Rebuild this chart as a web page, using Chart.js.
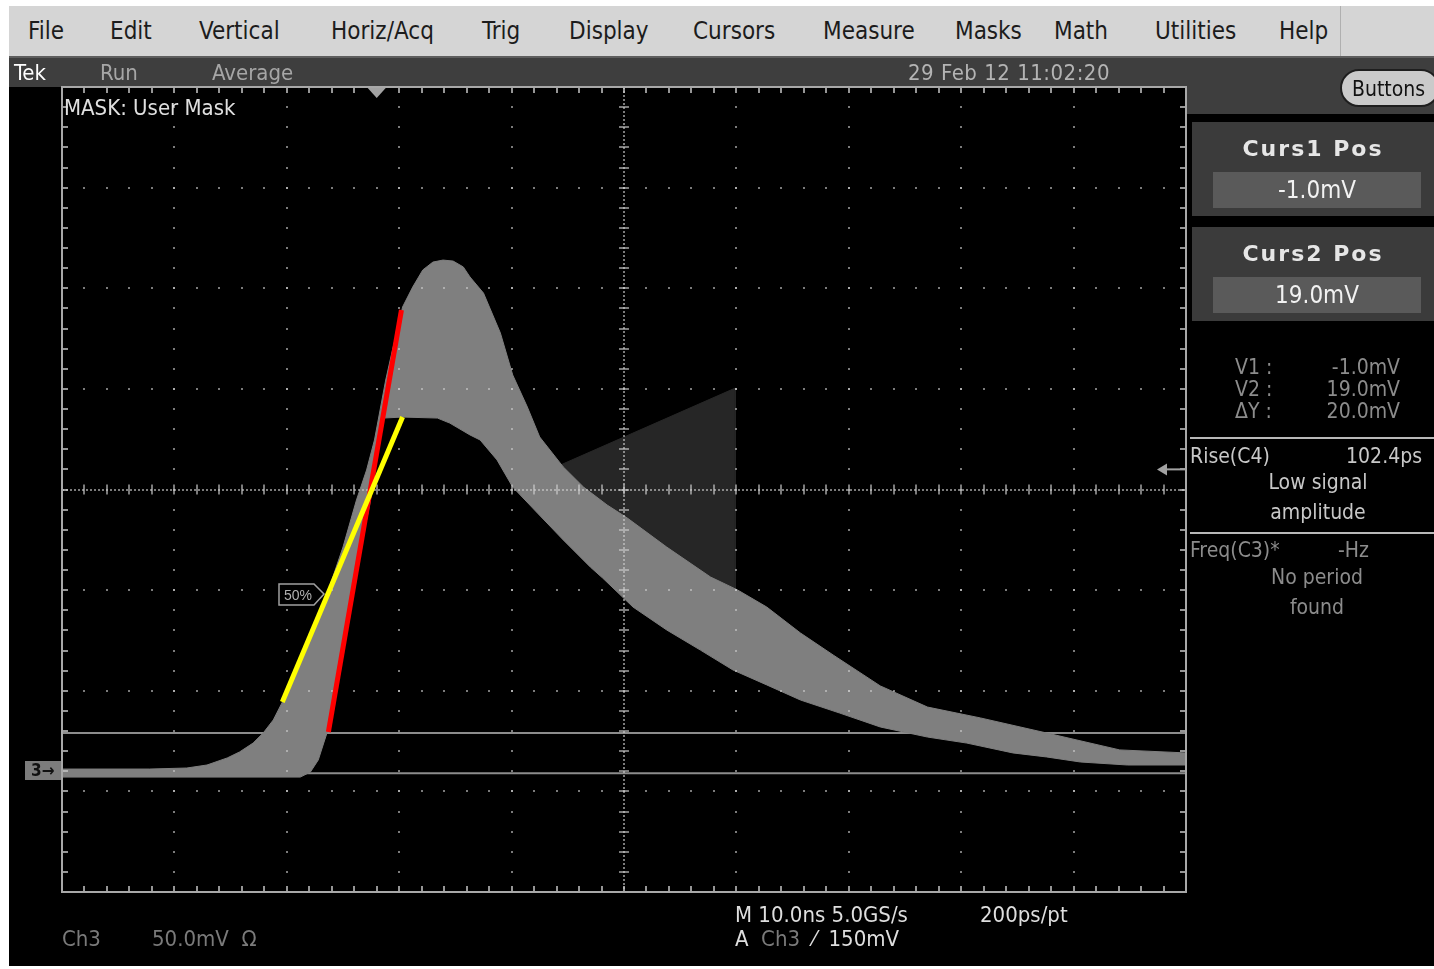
<!DOCTYPE html>
<html>
<head>
<meta charset="utf-8">
<title>Tek Ch3 mask</title>
<script src="https://cdn.jsdelivr.net/npm/chart.js"></script>
<style>
    body { margin: 0; width: 1434px; height: 969px; background: #fff; position: relative; overflow: hidden;
           font-family: "Liberation Sans Narrow", "DejaVu Sans Condensed", "Liberation Sans", sans-serif; }
    .abs { position: absolute; white-space: nowrap; line-height: 1; }
    #menubar { left: 9px; top: 6px; width: 1425px; height: 50px; background: #d5d5d5; border-bottom: 2px solid #5e5e5e; }
    #menubar span { position: absolute; top: 13px; font-size: 24px; color: #1c1c1c; }
    #menusep { left: 1340px; top: 6px; width: 1px; height: 50px; background: #b0b0b0; }
    #screen { left: 9px; top: 58px; width: 1425px; height: 908px; background: #000; }
    #status { left: 9px; top: 58px; width: 1425px; height: 29px; background: #3e3e3e; }
    #rightHead { left: 1186px; top: 58px; width: 248px; height: 56px; background: #3e3e3e; }
    #buttons { left: 1340px; top: 69px; width: 100px; height: 38px; background: #cacaca; border: 2px solid #1e1e1e;
               border-radius: 20px; box-sizing: border-box; font-size: 21px; color: #111; padding: 8px 0 0 10px; }
    .curBox { position: absolute; left: 1192px; width: 242px; height: 94px; background: #3b3b3b; }
    .curTitle { position: absolute; left: 0; width: 100%; top: 14px; text-align: center; font-family: "DejaVu Sans", sans-serif;
                font-weight: bold; font-size: 22px; letter-spacing: 2px; color: #e6e6e6; }
    .curVal { position: absolute; left: 21px; top: 50px; width: 208px; height: 36px; background: #5a5a5a;
              text-align: center; font-size: 24px; color: #f2f2f2; line-height: 36px; }
    .dim { color: #8c8c8c; }
    #canvasWrap { position: absolute; left: 0; top: 0; width: 1434px; height: 969px; }
    .sep { position: absolute; left: 1190px; width: 244px; height: 2px; background: #b8b8b8; }
</style>
</head>
<body>
<div id="screen" class="abs"></div>
<div id="menubar" class="abs">
    <span style="left:19px">File</span>
    <span style="left:101px">Edit</span>
    <span style="left:190px">Vertical</span>
    <span style="left:322px">Horiz/Acq</span>
    <span style="left:473px">Trig</span>
    <span style="left:560px">Display</span>
    <span style="left:684px">Cursors</span>
    <span style="left:814px">Measure</span>
    <span style="left:946px">Masks</span>
    <span style="left:1045px">Math</span>
    <span style="left:1146px">Utilities</span>
    <span style="left:1270px">Help</span>
</div>
<div id="menusep" class="abs"></div>
<div id="status" class="abs"></div>
<div id="rightHead" class="abs"></div>

<div id="canvasWrap"><canvas id="scopeChart" width="1434" height="969"></canvas></div>

<!-- barra de estado -->
<div class="abs" style="left:14px;top:62px;font-size:22px;color:#fff">Tek</div>
<div class="abs" style="left:100px;top:62px;font-size:22px;color:#a6a6a6">Run</div>
<div class="abs" style="left:212px;top:62px;font-size:22px;color:#a6a6a6">Average</div>
<div class="abs" style="left:908px;top:62px;font-size:22px;letter-spacing:0.5px;color:#b4b4b4">29 Feb 12 11:02:20</div>
<div id="buttons" class="abs">Buttons</div>
<div class="abs" style="left:64px;top:97px;font-size:22px;color:#e0e0e0">MASK: User Mask</div>

<!-- panel de cursores -->
<div class="curBox" style="top:122px"><div class="curTitle">Curs1 Pos</div><div class="curVal">-1.0mV</div></div>
<div class="curBox" style="top:227px"><div class="curTitle">Curs2 Pos</div><div class="curVal">19.0mV</div></div>

<div class="abs dim" style="left:1235px;top:357px;font-size:21px">V1 :</div>
<div class="abs dim" style="left:1235px;top:379px;font-size:21px">V2 :</div>
<div class="abs dim" style="left:1235px;top:401px;font-size:21px">ΔY :</div>
<div class="abs dim" style="left:1300px;width:100px;text-align:right;top:357px;font-size:21px">-1.0mV</div>
<div class="abs dim" style="left:1300px;width:100px;text-align:right;top:379px;font-size:21px">19.0mV</div>
<div class="abs dim" style="left:1300px;width:100px;text-align:right;top:401px;font-size:21px">20.0mV</div>

<div class="sep" style="top:437px"></div>
<div class="abs" style="left:1190px;top:446px;font-size:21px;color:#c8c8c8">Rise(C4)</div>
<div class="abs" style="left:1322px;width:100px;text-align:right;top:446px;font-size:21px;color:#c8c8c8">102.4ps</div>
<div class="abs" style="left:1190px;width:256px;text-align:center;top:472px;font-size:21px;color:#c8c8c8">Low signal</div>
<div class="abs" style="left:1190px;width:256px;text-align:center;top:502px;font-size:21px;color:#c8c8c8">amplitude</div>
<div class="sep" style="top:532px"></div>
<div class="abs dim" style="left:1190px;top:540px;font-size:21px">Freq(C3)*</div>
<div class="abs dim" style="left:1338px;top:540px;font-size:21px">-Hz</div>
<div class="abs dim" style="left:1190px;width:254px;text-align:center;top:567px;font-size:21px">No period</div>
<div class="abs dim" style="left:1190px;width:254px;text-align:center;top:597px;font-size:21px">found</div>

<!-- marcadores -->
<div class="abs" style="left:25px;top:761px;width:36px;height:19px;background:#7c7c7c;color:#111;font-size:17px;font-weight:bold;padding:1px 0 0 6px;box-sizing:border-box">3→</div>
<svg class="abs" style="left:278px;top:583px" width="50" height="24">
    <polygon points="1,1 36,1 46,11 36,22 1,22" fill="#000" stroke="#a0a0a0" stroke-width="1.5"/>
    <text x="6" y="17" font-size="14" fill="#b0b0b0" font-family="Liberation Sans Narrow, Liberation Sans, sans-serif">50%</text>
</svg>

<!-- barra inferior -->
<div class="abs" style="left:62px;top:928px;font-size:22px;color:#7a7a7a">Ch3</div>
<div class="abs" style="left:152px;top:928px;font-size:22px;color:#7a7a7a">50.0mV&nbsp;&nbsp;Ω</div>
<div class="abs" style="left:735px;top:904px;font-size:22px;color:#dedede">M 10.0ns 5.0GS/s</div>
<div class="abs" style="left:980px;top:904px;font-size:22px;color:#dedede">200ps/pt</div>
<div class="abs" style="left:735px;top:928px;font-size:22px;color:#dedede">A <span style="color:#7a7a7a">&nbsp;Ch3</span>&nbsp;&nbsp;⁄&nbsp;&nbsp;150mV</div>

<script>
// Envolvente del pulso promediado en Ch3 (tiempo en ns desde el disparo, nivel en mV)
const upperNs = [-28.0, -20.2, -16.9, -15.1, -13.3, -12.2, -11.0, -10.1, -9.2, -8.3, -6.8, -5.3, -4.2, -3.0, -1.8, -0.9,
    -0.2, 0.3, 0.8, 1.4, 1.9, 2.3, 3.2, 4.1, 5.0, 5.9, 6.8, 7.7, 8.3, 9.5, 11.0, 12.1, 13.4, 14.5, 16.6, 18.4, 20.5,
    22.3, 25.8, 29.7, 32.1, 34.7, 37.7, 40.6, 44.8, 49.0, 53.7, 59.6, 66.1, 72.0];
const upperMv = [1.1, 1.1, 1.6, 3.1, 6.6, 9.6, 14.0, 19.0, 25.5, 35.4, 55.3, 75.2, 91.6, 111.4, 134.8, 149.7,
    164.6, 179.5, 194.4, 209.3, 220.7, 230.7, 240.6, 249.1, 253.0, 254.0, 253.5, 250.6, 245.6, 237.6, 217.8, 196.9, 181.0,
    166.1, 151.2, 141.2, 132.3, 125.8, 111.4, 96.5, 90.1, 81.6, 68.7, 57.8, 42.4, 31.9, 26.5, 19.0, 10.6, 9.1];
const lowerNs = [-28.0, -6.8, -5.9, -5.2, -4.4, -2.6, -1.5, -0.6, 0.0, 0.6, 2.3, 5.4, 6.5, 8.3, 9.2, 10.7, 12.1, 14.3,
    16.6, 19.0, 20.1, 22.8, 25.8, 28.8, 31.7, 34.7, 37.7, 41.2, 44.8, 49.0, 52.5, 56.6, 59.6, 62.6, 66.8, 72.0];
const lowerMv = [-2.9, -2.9, -0.4, 5.6, 19.5, 75.2, 108.4, 133.3, 154.7, 175.5, 176.0, 175.5, 173.0, 167.1, 164.6, 154.7,
    141.2, 128.3, 114.9, 101.5, 96.0, 81.6, 70.2, 60.2, 50.3, 42.9, 35.4, 28.9, 22.0, 17.0, 14.0, 9.1, 7.1, 4.6, 3.1, 3.1];

// Triángulo de la máscara de usuario
const maskNs = [12.7, 31.9, 31.9];
const maskMv = [143.2, 190.4, 90.1];

// Rectas de ajuste del flanco de subida
const redFitNs = [-4.3, 2.2];
const redFitMv = [19.5, 229.2];
const yellowFitNs = [-8.4, 2.3];
const yellowFitMv = [34.4, 176.0];

// Cursores, disparo y rango de pantalla (10 ns/div, 50 mV/div)
const cursorMv = [-1.0, 19.0];
const triggerNs = 0;
const triggerLevelMv = 150;
const timeRangeNs = [-28, 72];
const levelRangeMv = [-60, 340];

const toPoints = (xs, ys) => xs.map((x, i) => ({ x: x, y: ys[i] }));

// contorno cerrado: borde superior de izquierda a derecha y borde inferior de vuelta
const bandPoints = toPoints(upperNs, upperMv).concat(toPoints(lowerNs, lowerMv).reverse());
bandPoints.push(bandPoints[0]);
const maskPoints = toPoints(maskNs, maskMv);
maskPoints.push(maskPoints[0]);

const BAND = 3;

// Retícula del osciloscopio: 10 x 8 divisiones, 5 subdivisiones
const graticule = {
    id: 'graticule',
    afterDatasetDraw(chart, args) {
        if (args.index !== BAND) return;
        const { ctx, chartArea: a, scales: { x, y } } = chart;
        const xDiv = (timeRangeNs[1] - timeRangeNs[0]) / 10;
        const yDiv = (levelRangeMv[1] - levelRangeMv[0]) / 8;
        const cx = x.getPixelForValue(timeRangeNs[0] + 5 * xDiv);
        const cy = y.getPixelForValue(levelRangeMv[0] + 4 * yDiv);
        const mx = (a.right - a.left) / 50;
        const my = (a.bottom - a.top) / 40;
        ctx.save();
        ctx.fillStyle = 'rgba(205,205,205,0.6)';
        for (let i = 1; i < 10; i++) {
            if (i === 5) continue;
            const px = Math.round(x.getPixelForValue(timeRangeNs[0] + i * xDiv));
            for (let k = 1; k < 40; k++) ctx.fillRect(px - 1, Math.round(a.top + k * my) - 1, 2, 2);
        }
        for (let j = 1; j < 8; j++) {
            if (j === 4) continue;
            const py = Math.round(y.getPixelForValue(levelRangeMv[0] + j * yDiv));
            for (let k = 1; k < 50; k++) ctx.fillRect(Math.round(a.left + k * mx) - 1, py - 1, 2, 2);
        }
        // ejes centrales
        for (let px = a.left; px < a.right; px += 4) ctx.fillRect(px, Math.round(cy) - 1, 2, 2);
        for (let py = a.top; py < a.bottom; py += 4) ctx.fillRect(Math.round(cx) - 1, py, 2, 2);
        for (let k = 1; k < 50; k++) ctx.fillRect(Math.round(a.left + k * mx) - 1, cy - 5, 2, 10);
        for (let k = 1; k < 40; k++) ctx.fillRect(cx - 5, Math.round(a.top + k * my) - 1, 10, 2);
        // marco con marcas
        ctx.fillStyle = 'rgba(200,200,200,0.75)';
        for (let k = 1; k < 50; k++) {
            const px = Math.round(a.left + k * mx) - 1;
            ctx.fillRect(px, a.top, 2, 6);
            ctx.fillRect(px, a.bottom - 6, 2, 6);
        }
        for (let k = 1; k < 40; k++) {
            const py = Math.round(a.top + k * my) - 1;
            ctx.fillRect(a.left, py, 6, 2);
            ctx.fillRect(a.right - 6, py, 6, 2);
        }
        ctx.strokeStyle = '#a8a8a8';
        ctx.lineWidth = 2;
        ctx.strokeRect(a.left, a.top, a.right - a.left, a.bottom - a.top);
        ctx.restore();
    },
    afterDraw(chart) {
        const { ctx, chartArea: a, scales: { x, y } } = chart;
        ctx.save();
        ctx.fillStyle = '#a2a2a2';
        // posición del disparo
        const tx = x.getPixelForValue(triggerNs);
        ctx.beginPath();
        ctx.moveTo(tx - 9, a.top + 1);
        ctx.lineTo(tx + 9, a.top + 1);
        ctx.lineTo(tx, a.top + 11);
        ctx.closePath();
        ctx.fill();
        // nivel del disparo
        const ty = y.getPixelForValue(triggerLevelMv);
        ctx.fillRect(a.right - 22, ty - 1, 22, 2);
        ctx.beginPath();
        ctx.moveTo(a.right - 29, ty);
        ctx.lineTo(a.right - 19, ty - 6);
        ctx.lineTo(a.right - 19, ty + 6);
        ctx.closePath();
        ctx.fill();
        ctx.restore();
    }
};

document.addEventListener('DOMContentLoaded', () => {
    new Chart(document.getElementById('scopeChart'), {
        type: 'line',
        data: {
            datasets: [
                {
                    label: 'Ajuste amarillo',
                    data: toPoints(yellowFitNs, yellowFitMv),
                    borderColor: '#ffff00',
                    borderWidth: 5,
                    order: 1
                },
                {
                    label: 'Ajuste rojo',
                    data: toPoints(redFitNs, redFitMv),
                    borderColor: '#ff0000',
                    borderWidth: 5,
                    order: 2
                },
                {
                    label: 'Máscara',
                    data: maskPoints,
                    borderColor: '#262626',
                    backgroundColor: '#262626',
                    borderWidth: 1,
                    fill: 'shape',
                    order: 4
                },
                {
                    label: 'Ch3',
                    data: bandPoints,
                    borderColor: '#7f7f7f',
                    backgroundColor: '#7f7f7f',
                    borderWidth: 1,
                    fill: 'shape',
                    order: 3
                },
                {
                    label: 'Curs1',
                    data: toPoints(timeRangeNs, [cursorMv[0], cursorMv[0]]),
                    borderColor: '#8c8c8c',
                    borderWidth: 2,
                    order: 5
                },
                {
                    label: 'Curs2',
                    data: toPoints(timeRangeNs, [cursorMv[1], cursorMv[1]]),
                    borderColor: '#8c8c8c',
                    borderWidth: 2,
                    order: 5
                }
            ]
        },
        options: {
            responsive: false,
            animation: false,
            events: [],
            layout: { padding: { left: 62, top: 87, right: 248, bottom: 77 } },
            elements: { point: { radius: 0 }, line: { tension: 0 } },
            scales: {
                x: { type: 'linear', min: timeRangeNs[0], max: timeRangeNs[1], display: false },
                y: { type: 'linear', min: levelRangeMv[0], max: levelRangeMv[1], display: false }
            },
            plugins: { legend: { display: false }, tooltip: { enabled: false } }
        },
        plugins: [graticule]
    });
});
</script>
</body>
</html>
